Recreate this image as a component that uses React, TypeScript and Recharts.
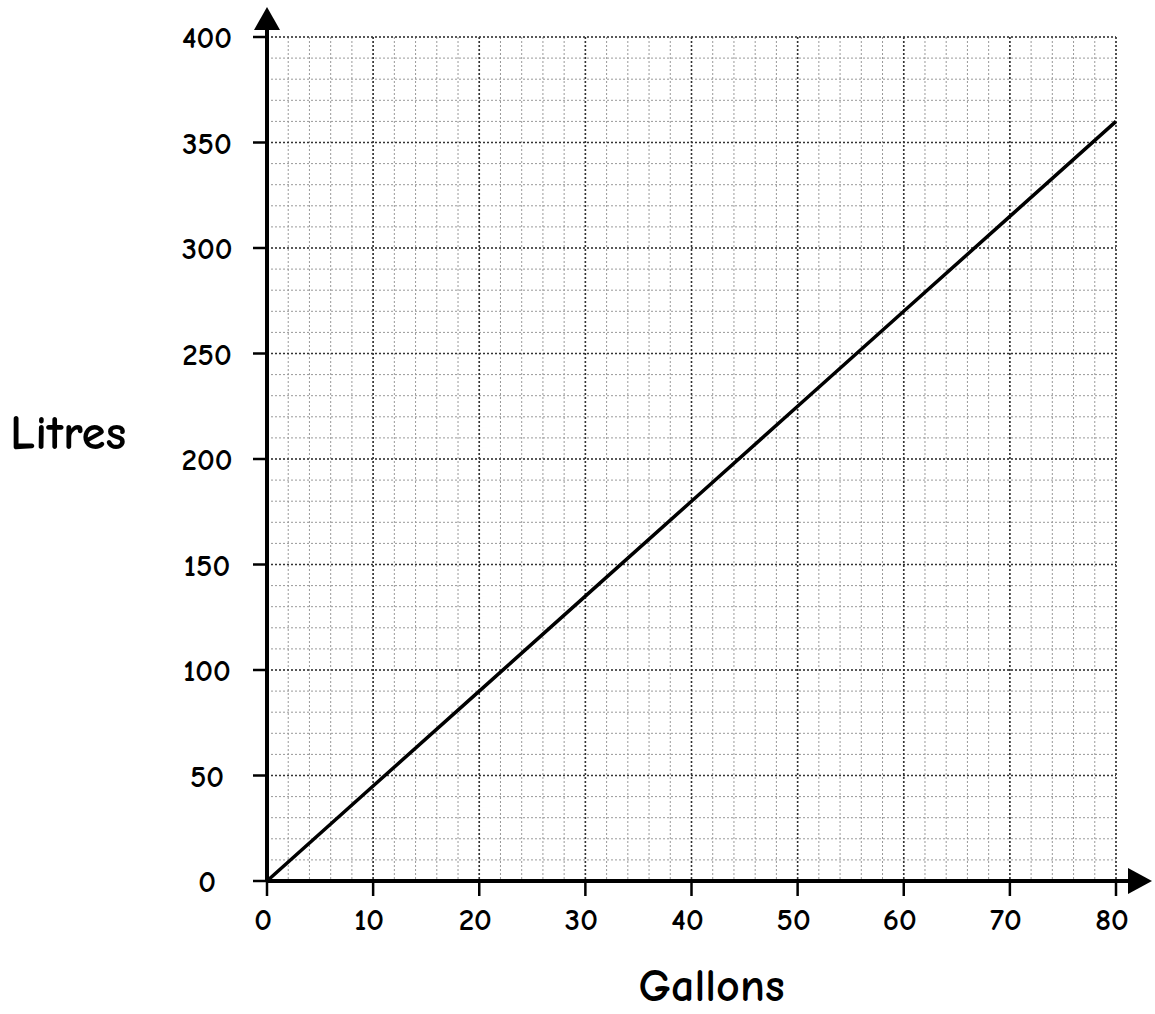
import {
  CartesianGrid,
  Label,
  Line,
  LineChart,
  ReferenceLine,
  XAxis,
  YAxis,
} from "recharts";

// gallons -> litres
const gallons = [0, 10, 20, 30, 40, 50, 60, 70, 80];
const litres = [0, 45, 90, 135, 180, 225, 270, 315, 360];

const xTicks = [0, 10, 20, 30, 40, 50, 60, 70, 80];
const yTicks = [0, 50, 100, 150, 200, 250, 300, 350, 400];

// minor grid: every 2 gallons, every 10 litres
const xMinor = Array.from({ length: 41 }, (_, i) => i * 2);
const yMinor = Array.from({ length: 41 }, (_, i) => i * 10);

const data = gallons.map((g, i) => ({ gallons: g, litres: litres[i] }));

const FONT = "'Comic Sans MS', 'Comic Neue', 'DejaVu Sans', sans-serif";

function YTick(props: any) {
  const { x, y, payload } = props;
  return (
    <text
      x={x}
      y={y}
      dy="0.36em"
      textAnchor="middle"
      fontFamily={FONT}
      fontSize={31}
      fontWeight="bold"
      fill="#000"
    >
      {payload.value}
    </text>
  );
}

function XTick(props: any) {
  const { x, y, payload } = props;
  return (
    <text
      x={x - 4}
      y={y}
      dy="0.72em"
      textAnchor="middle"
      fontFamily={FONT}
      fontSize={31}
      fontWeight="bold"
      fill="#000"
    >
      {payload.value}
    </text>
  );
}

function XAxisArrow(props: any) {
  const { x1, x2, y1 } = props;
  const left = Math.min(x1, x2);
  const right = Math.max(x1, x2);
  return (
    <g>
      <line x1={left} y1={y1} x2={right + 14} y2={y1} stroke="#000" strokeWidth={4} />
      <polygon
        points={`${right + 12},${y1 - 13} ${right + 36},${y1} ${right + 12},${y1 + 13}`}
        fill="#000"
      />
    </g>
  );
}

function YAxisArrow(props: any) {
  const { x1, y1, y2 } = props;
  const top = Math.min(y1, y2);
  const bottom = Math.max(y1, y2);
  return (
    <g>
      <line x1={x1} y1={bottom} x2={x1} y2={top - 9} stroke="#000" strokeWidth={4} />
      <polygon
        points={`${x1 - 13},${top - 7} ${x1},${top - 30} ${x1 + 13},${top - 7}`}
        fill="#000"
      />
    </g>
  );
}

export default function App() {
  return (
    <div style={{ position: "absolute", left: 0, top: 0, background: "#fff" }}>
      <LineChart
        width={1155}
        height={1014}
        data={data}
        margin={{ top: 37, right: 39, bottom: 0, left: 0 }}
      >
        <CartesianGrid
          verticalValues={xMinor}
          horizontalValues={yMinor}
          stroke="#999"
          strokeWidth={1}
          strokeDasharray="2 2"
        />
        <CartesianGrid
          verticalValues={xTicks}
          horizontalValues={yTicks}
          stroke="#333"
          strokeWidth={1.6}
          strokeDasharray="2 2"
        />
        <XAxis
          dataKey="gallons"
          type="number"
          domain={[0, 80]}
          ticks={xTicks}
          height={133}
          axisLine={false}
          tickLine={{ stroke: "#000", strokeWidth: 2.5 }}
          tickSize={15}
          tickMargin={12}
          tick={<XTick />}
          interval={0}
        >
          <Label
            value="Gallons"
            position="insideBottom"
            offset={13}
            dx={20}
            fontFamily={FONT}
            fontSize={46}
            fontWeight="bold"
            fill="#000"
          />
        </XAxis>
        <YAxis
          type="number"
          domain={[0, 400]}
          ticks={yTicks}
          width={267}
          axisLine={false}
          tickLine={{ stroke: "#000", strokeWidth: 2.5 }}
          tickSize={14}
          tickMargin={46}
          tick={<YTick />}
          interval={0}
        >
          <Label
            value="Litres"
            position="insideLeft"
            offset={10}
            dy={-27}
            fontFamily={FONT}
            fontSize={49}
            fontWeight="bold"
            fill="#000"
          />
        </YAxis>
        <Line
          type="linear"
          dataKey="litres"
          stroke="#000"
          strokeWidth={3.5}
          dot={false}
          activeDot={false}
          isAnimationActive={false}
        />
        <ReferenceLine y={0} shape={<XAxisArrow />} />
        <ReferenceLine x={0} shape={<YAxisArrow />} />
      </LineChart>
    </div>
  );
}
